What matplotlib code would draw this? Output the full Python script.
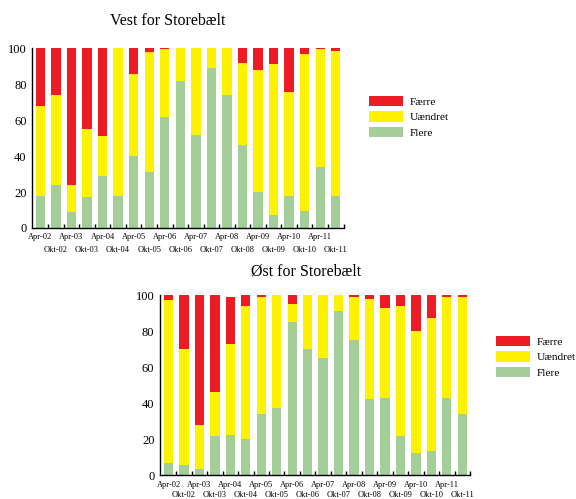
import matplotlib
matplotlib.use("Agg")
import matplotlib.pyplot as plt
from matplotlib.patches import Patch
import numpy as np

plt.rcParams["font.family"] = ["Liberation Serif", "DejaVu Serif"]

periods = ["Apr-02", "Okt-02", "Apr-03", "Okt-03", "Apr-04", "Okt-04", "Apr-05", "Okt-05",
           "Apr-06", "Okt-06", "Apr-07", "Okt-07", "Apr-08", "Okt-08", "Apr-09", "Okt-09",
           "Apr-10", "Okt-10", "Apr-11", "Okt-11"]

# Vest for Storebælt (percent)
vest_flere = [18, 24, 9, 17, 29, 18, 40, 31, 62, 82, 52, 89, 74, 46, 20, 7, 18, 9.5, 34, 18]
vest_uaendret = [50, 50, 15, 38, 22, 82, 46, 67, 37.5, 18, 48, 11, 26, 46, 68, 84.5, 58, 87.5, 65.5, 80.5]
vest_faerre = [32, 26, 76, 45, 49, 0, 14, 2, 0.5, 0, 0, 0, 0, 8, 12, 8.5, 24, 3, 0.5, 1.5]

# Øst for Storebælt (percent)
oest_flere = [6.5, 5.5, 3.5, 21.5, 22.5, 20, 34, 37.5, 85, 70, 65, 91, 75, 42.5, 43, 21.5, 12.5, 13.5, 43, 34]
oest_uaendret = [91, 64.5, 24.5, 24.5, 50.5, 74, 65, 62.5, 10, 30, 35, 9, 24, 55.5, 50, 72.5, 67.5, 73.5, 56, 65]
oest_faerre = [2.5, 30, 72, 54, 26, 6, 1, 0, 5, 0, 0, 0, 1, 2, 7, 6, 20, 13, 1, 1]

RED = "#ed1c24"; YEL = "#fff200"; GRN = "#a4cd98"

W, H = 576, 499
fig = plt.figure(figsize=(W / 100, H / 100), dpi=100)


def panel(rect, flere, uaendret, faerre, title, title_xy, leg_xy, xlim, apr_pad, okt_pad):
    ax = fig.add_axes(rect)
    x = np.arange(len(periods))
    flere = np.array(flere); uaendret = np.array(uaendret); faerre = np.array(faerre)
    ax.bar(x, flere, width=0.6, color=GRN, lw=0)
    ax.bar(x, uaendret, width=0.6, bottom=flere, color=YEL, lw=0)
    ax.bar(x, faerre, width=0.6, bottom=flere + uaendret, color=RED, lw=0)
    ax.set_xlim(*xlim); ax.set_ylim(0, 100)
    ax.set_yticks([0, 20, 40, 60, 80, 100])
    ax.tick_params(axis="y", length=0, pad=4, labelsize=9)
    ax.set_xticks(x)
    ax.set_xticklabels(periods, fontsize=6)
    ax.tick_params(axis="x", which="major", length=0)
    for i, t in enumerate(ax.xaxis.get_major_ticks()):
        t.set_pad(apr_pad if i % 2 == 0 else okt_pad)
    ax.set_xticks(x + 0.5, minor=True)
    ax.tick_params(axis="x", which="minor", direction="in", length=3, width=1)
    for s in ("top", "right"):
        ax.spines[s].set_visible(False)
    for s in ("left", "bottom"):
        ax.spines[s].set_linewidth(1)
    fig.text(title_xy[0] / W, 1 - title_xy[1] / H, title, ha="center", va="center", fontsize=11.5)
    handles = [Patch(color=RED, lw=0), Patch(color=YEL, lw=0), Patch(color=GRN, lw=0)]
    fig.legend(handles, ["Færre", "Uændret", "Flere"], loc="upper left",
               bbox_to_anchor=(leg_xy[0] / W, 1 - leg_xy[1] / H), frameon=False,
               fontsize=8.2, borderpad=0, borderaxespad=0, handlelength=3.0,
               handleheight=0.98, handletextpad=0.6, labelspacing=0.4)
    return ax


panel([32.3 / W, 1 - 228 / H, (344 - 32.3) / W, (228 - 48.5) / H],
      vest_flere, vest_uaendret, vest_faerre, "Vest for Storebælt", (168, 21), (369, 96),
      (-0.52, 19.53), 3.6, 13)
panel([160 / W, 1 - 475 / H, (470 - 160) / W, (475 - 295) / H],
      oest_flere, oest_uaendret, oest_faerre, "Øst for Storebælt", (306, 272), (496, 336),
      (-0.55, 19.45), 4.3, 11.5)

fig.savefig("out.png", dpi=100)
